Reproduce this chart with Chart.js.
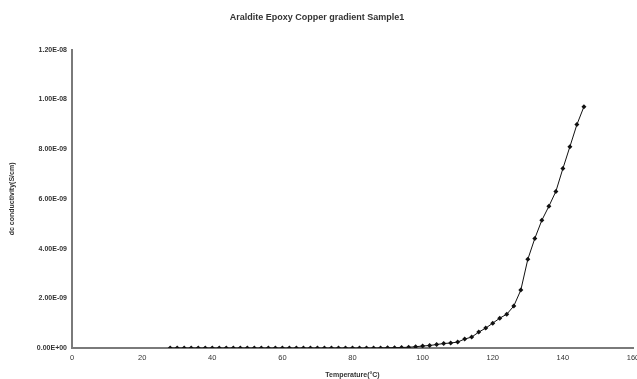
<!DOCTYPE html>
<html>
<head>
<meta charset="utf-8">
<script src="https://cdn.jsdelivr.net/npm/chart.js@4.4.1/dist/chart.umd.min.js"></script>
<style>
  html, body { margin: 0; padding: 0; background: #fff; }
  #wrap { width: 637px; height: 379px; position: relative; }
</style>
</head>
<body>
<div id="wrap"><canvas id="chart"></canvas></div>
<script>
// Araldite epoxy / copper gradient, dc conductivity vs temperature
const temperatures = [
  28, 30, 32, 34, 36, 38, 40, 42, 44, 46, 48, 50, 52, 54, 56, 58, 60, 62, 64, 66,
  68, 70, 72, 74, 76, 78, 80, 82, 84, 86, 88, 90, 92, 94, 96, 98, 100, 102, 104, 106,
  108, 110, 112, 114, 116, 118, 120, 122, 124, 126, 128, 130, 132, 134, 136, 138, 140, 142, 144, 146
];
const conductivity = [
  0, 0, 0, 0, 0, 0, 0, 0, 0, 0, 0, 0, 0, 0, 0, 0, 0, 0, 0, 0,
  0, 0, 0, 0, 0, 0, 0, 0, 0, 0, 0.005e-9, 0.01e-9, 0.015e-9, 0.02e-9, 0.03e-9, 0.05e-9, 0.08e-9, 0.1e-9, 0.14e-9, 0.18e-9,
  0.2e-9, 0.24e-9, 0.36e-9, 0.44e-9, 0.64e-9, 0.8e-9, 1.0e-9, 1.2e-9, 1.36e-9, 1.69e-9, 2.33e-9, 3.57e-9, 4.41e-9, 5.14e-9, 5.7e-9, 6.3e-9, 7.22e-9, 8.1e-9, 8.99e-9, 9.71e-9
];
const yTickLabels = ['0.00E+00', '2.00E-09', '4.00E-09', '6.00E-09', '8.00E-09', '1.00E-08', '1.20E-08'];

const axisGrey = '#7a7a7a';
const textCol = '#333';

const ctx = document.getElementById('chart').getContext('2d');
new Chart(ctx, {
  type: 'line',
  data: {
    datasets: [{
      data: temperatures.map((t, i) => ({ x: t, y: conductivity[i] })),
      borderColor: '#111',
      borderWidth: 1,
      backgroundColor: '#111',
      pointStyle: 'rectRot',
      pointRadius: 2.5,
      pointBorderWidth: 0,
      tension: 0
    }]
  },
  options: {
    responsive: true,
    maintainAspectRatio: false,
    animation: false,
    layout: { padding: { left: 0, right: 3, top: 0, bottom: 0 } },
    plugins: {
      legend: { display: false },
      tooltip: { enabled: false },
      title: {
        display: true,
        text: 'Araldite Epoxy Copper gradient Sample1',
        color: textCol,
        font: { family: 'Liberation Sans, Arial', size: 9, weight: 'bold' },
        padding: { top: 12, bottom: 27 }
      }
    },
    scales: {
      x: {
        type: 'linear',
        min: 0,
        max: 160,
        grid: { display: false, drawTicks: true, tickLength: 3, tickColor: axisGrey },
        border: { color: axisGrey, width: 2 },
        ticks: {
          stepSize: 20,
          color: textCol,
          padding: 2,
          maxRotation: 0,
          font: { family: 'Liberation Sans, Arial', size: 7.5 }
        },
        title: {
          display: true,
          text: 'Temperature(°C)',
          color: textCol,
          padding: { top: 2, bottom: 0 },
          font: { family: 'Liberation Sans, Arial', size: 7, weight: 'bold' }
        },
        afterFit: s => { s.height = 31; s.paddingLeft = 0; s.paddingRight = 0; }
      },
      y: {
        min: 0,
        max: 1.2e-8,
        grid: { display: false, drawTicks: true, tickLength: 3, tickColor: axisGrey },
        border: { color: axisGrey, width: 2 },
        ticks: {
          stepSize: 2e-9,
          color: textCol,
          padding: 2,
          font: { family: 'Liberation Sans, Arial', size: 7, weight: 'bold' },
          callback: (v, i) => yTickLabels[i]
        },
        title: {
          display: true,
          text: 'dc conductivity(S/cm)',
          color: textCol,
          padding: { top: 8, bottom: 4 },
          font: { family: 'Liberation Sans, Arial', size: 7, weight: 'bold' }
        },
        afterFit: s => { s.width = 72; s.paddingTop = 0; s.paddingBottom = 0; }
      }
    }
  }
});
</script>
</body>
</html>
